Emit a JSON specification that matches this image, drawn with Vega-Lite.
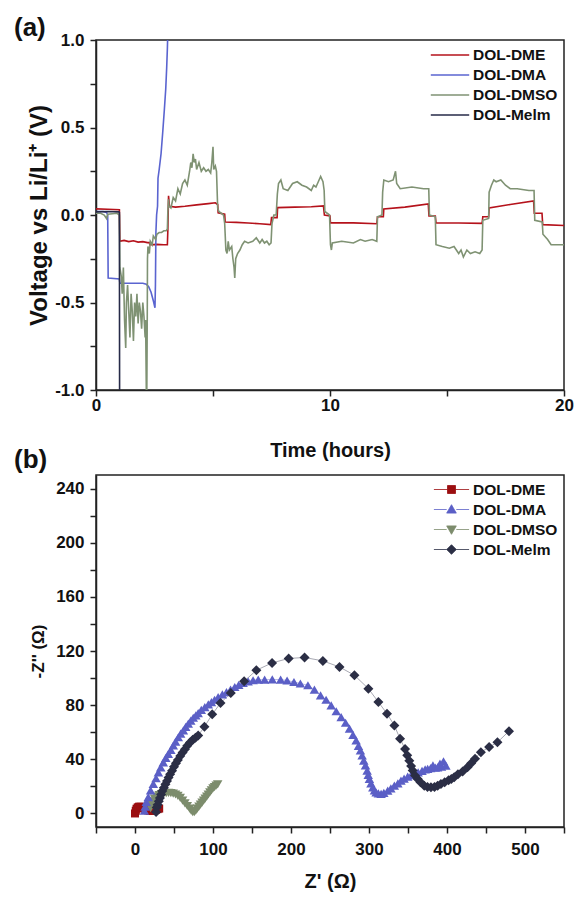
{
  "$schema": "https://vega.github.io/schema/vega-lite/v6.json",
  "background": "white",
  "padding": {"left": 13, "top": 14, "right": 5, "bottom": 2},
  "bounds": "flush",
  "spacing": 85,
  "resolve": {"scale": {"color": "independent"}, "legend": {"color": "independent"}},
  "config": {
    "font": "Liberation Sans",
    "view": {"stroke": "#222", "strokeWidth": 1.5},
    "axis": {"domainColor": "#222", "domainWidth": 1.5, "tickColor": "#222", "tickWidth": 1.5, "tickSize": 6, "grid": false,
      "labelFont": "Liberation Sans", "labelFontWeight": "bold", "labelFontSize": 17, "labelColor": "#111",
      "titleFont": "Liberation Sans", "titleFontWeight": "bold", "titleFontSize": 20, "titleColor": "#111", "labelFlush": false, "labelOverlap": false},
    "legend": {"labelFont": "Liberation Sans", "labelFontWeight": "bold", "labelFontSize": 15.5, "labelColor": "#111"}
  },
  "datasets": {
    "volt": [
      {"s":"DOL-DME","i":0,"t":0,"v":0.035},{"s":"DOL-DME","i":1,"t":0.5,"v":0.033},{"s":"DOL-DME","i":2,"t":1.0,"v":0.03},{"s":"DOL-DME","i":3,"t":1.02,"v":-0.15},
      {"s":"DOL-DME","i":4,"t":1.2,"v":-0.145},{"s":"DOL-DME","i":5,"t":1.4,"v":-0.152},{"s":"DOL-DME","i":6,"t":1.6,"v":-0.147},{"s":"DOL-DME","i":7,"t":1.8,"v":-0.155},
      {"s":"DOL-DME","i":8,"t":2.0,"v":-0.152},{"s":"DOL-DME","i":9,"t":2.2,"v":-0.158},{"s":"DOL-DME","i":10,"t":2.28,"v":-0.158},{"s":"DOL-DME","i":11,"t":2.3,"v":-0.17},
      {"s":"DOL-DME","i":12,"t":2.6,"v":-0.168},{"s":"DOL-DME","i":13,"t":2.9,"v":-0.17},{"s":"DOL-DME","i":14,"t":3.05,"v":-0.17},{"s":"DOL-DME","i":15,"t":3.07,"v":-0.09},
      {"s":"DOL-DME","i":16,"t":3.1,"v":0.11},{"s":"DOL-DME","i":17,"t":3.14,"v":0.05},{"s":"DOL-DME","i":18,"t":3.4,"v":0.045},{"s":"DOL-DME","i":19,"t":3.8,"v":0.05},
      {"s":"DOL-DME","i":20,"t":4.3,"v":0.058},{"s":"DOL-DME","i":21,"t":4.8,"v":0.065},{"s":"DOL-DME","i":22,"t":5.1,"v":0.07},{"s":"DOL-DME","i":23,"t":5.2,"v":0.06},
      {"s":"DOL-DME","i":24,"t":5.22,"v":0.012},{"s":"DOL-DME","i":25,"t":5.5,"v":0.005},{"s":"DOL-DME","i":26,"t":5.52,"v":-0.04},{"s":"DOL-DME","i":27,"t":6.0,"v":-0.042},
      {"s":"DOL-DME","i":28,"t":6.5,"v":-0.046},{"s":"DOL-DME","i":29,"t":7.0,"v":-0.05},{"s":"DOL-DME","i":30,"t":7.47,"v":-0.055},{"s":"DOL-DME","i":31,"t":7.5,"v":-0.015},
      {"s":"DOL-DME","i":32,"t":7.74,"v":-0.015},{"s":"DOL-DME","i":33,"t":7.76,"v":0.042},{"s":"DOL-DME","i":34,"t":8.5,"v":0.045},{"s":"DOL-DME","i":35,"t":9.2,"v":0.047},
      {"s":"DOL-DME","i":36,"t":9.72,"v":0.052},{"s":"DOL-DME","i":37,"t":9.76,"v":0.0},{"s":"DOL-DME","i":38,"t":10.0,"v":-0.005},{"s":"DOL-DME","i":39,"t":10.02,"v":-0.045},
      {"s":"DOL-DME","i":40,"t":11.0,"v":-0.045},{"s":"DOL-DME","i":41,"t":12.0,"v":-0.05},{"s":"DOL-DME","i":42,"t":12.03,"v":-0.01},{"s":"DOL-DME","i":43,"t":12.28,"v":-0.01},
      {"s":"DOL-DME","i":44,"t":12.3,"v":0.035},{"s":"DOL-DME","i":45,"t":13.2,"v":0.045},{"s":"DOL-DME","i":46,"t":14.2,"v":0.063},{"s":"DOL-DME","i":47,"t":14.23,"v":-0.005},
      {"s":"DOL-DME","i":48,"t":14.5,"v":-0.006},{"s":"DOL-DME","i":49,"t":14.53,"v":-0.045},{"s":"DOL-DME","i":50,"t":15.5,"v":-0.046},{"s":"DOL-DME","i":51,"t":16.5,"v":-0.048},
      {"s":"DOL-DME","i":52,"t":16.53,"v":-0.01},{"s":"DOL-DME","i":53,"t":16.78,"v":-0.01},{"s":"DOL-DME","i":54,"t":16.8,"v":0.04},{"s":"DOL-DME","i":55,"t":17.7,"v":0.06},
      {"s":"DOL-DME","i":56,"t":18.7,"v":0.08},{"s":"DOL-DME","i":57,"t":18.73,"v":0.01},{"s":"DOL-DME","i":58,"t":19.06,"v":0.01},{"s":"DOL-DME","i":59,"t":19.09,"v":-0.055},
      {"s":"DOL-DME","i":60,"t":20,"v":-0.06},

      {"s":"DOL-DMA","i":0,"t":0,"v":0.02},{"s":"DOL-DMA","i":1,"t":0.3,"v":0.02},{"s":"DOL-DMA","i":2,"t":0.45,"v":0.015},{"s":"DOL-DMA","i":3,"t":0.5,"v":0.0},
      {"s":"DOL-DMA","i":4,"t":0.52,"v":-0.36},{"s":"DOL-DMA","i":5,"t":1.0,"v":-0.365},{"s":"DOL-DMA","i":6,"t":1.02,"v":-0.39},{"s":"DOL-DMA","i":7,"t":1.5,"v":-0.39},
      {"s":"DOL-DMA","i":8,"t":2.0,"v":-0.39},{"s":"DOL-DMA","i":9,"t":2.15,"v":-0.395},{"s":"DOL-DMA","i":10,"t":2.25,"v":-0.41},{"s":"DOL-DMA","i":11,"t":2.35,"v":-0.44},
      {"s":"DOL-DMA","i":12,"t":2.45,"v":-0.49},{"s":"DOL-DMA","i":13,"t":2.52,"v":-0.53},{"s":"DOL-DMA","i":14,"t":2.54,"v":-0.4},{"s":"DOL-DMA","i":15,"t":2.56,"v":-0.1},
      {"s":"DOL-DMA","i":16,"t":2.59,"v":0.0},{"s":"DOL-DMA","i":17,"t":2.63,"v":0.05},{"s":"DOL-DMA","i":18,"t":2.65,"v":0.21},{"s":"DOL-DMA","i":19,"t":2.7,"v":0.26},
      {"s":"DOL-DMA","i":20,"t":2.78,"v":0.35},{"s":"DOL-DMA","i":21,"t":2.85,"v":0.47},{"s":"DOL-DMA","i":22,"t":2.92,"v":0.6},{"s":"DOL-DMA","i":23,"t":2.98,"v":0.72},
      {"s":"DOL-DMA","i":24,"t":3.02,"v":0.84},{"s":"DOL-DMA","i":25,"t":3.05,"v":0.95},{"s":"DOL-DMA","i":26,"t":3.07,"v":1.05},

      {"s":"DOL-DMSO","i":0,"t":0,"v":0.01},{"s":"DOL-DMSO","i":1,"t":0.2,"v":0.01},{"s":"DOL-DMSO","i":2,"t":0.35,"v":0.0},{"s":"DOL-DMSO","i":3,"t":0.45,"v":-0.02},
      {"s":"DOL-DMSO","i":4,"t":0.5,"v":0.005},{"s":"DOL-DMSO","i":5,"t":0.9,"v":0.01},{"s":"DOL-DMSO","i":6,"t":1.0,"v":0.0},{"s":"DOL-DMSO","i":7,"t":1.02,"v":-0.3},
      {"s":"DOL-DMSO","i":8,"t":1.08,"v":-0.35},{"s":"DOL-DMSO","i":9,"t":1.12,"v":-0.45},{"s":"DOL-DMSO","i":10,"t":1.17,"v":-0.3},{"s":"DOL-DMSO","i":11,"t":1.22,"v":-0.6},
      {"s":"DOL-DMSO","i":12,"t":1.27,"v":-0.76},{"s":"DOL-DMSO","i":13,"t":1.3,"v":-0.5},{"s":"DOL-DMSO","i":14,"t":1.35,"v":-0.4},{"s":"DOL-DMSO","i":15,"t":1.4,"v":-0.55},
      {"s":"DOL-DMSO","i":16,"t":1.45,"v":-0.7},{"s":"DOL-DMSO","i":17,"t":1.5,"v":-0.45},{"s":"DOL-DMSO","i":18,"t":1.55,"v":-0.55},{"s":"DOL-DMSO","i":19,"t":1.6,"v":-0.72},
      {"s":"DOL-DMSO","i":20,"t":1.65,"v":-0.5},{"s":"DOL-DMSO","i":21,"t":1.7,"v":-0.58},{"s":"DOL-DMSO","i":22,"t":1.75,"v":-0.45},{"s":"DOL-DMSO","i":23,"t":1.8,"v":-0.62},
      {"s":"DOL-DMSO","i":24,"t":1.85,"v":-0.5},{"s":"DOL-DMSO","i":25,"t":1.9,"v":-0.55},{"s":"DOL-DMSO","i":26,"t":1.95,"v":-0.65},{"s":"DOL-DMSO","i":27,"t":2.0,"v":-0.5},
      {"s":"DOL-DMSO","i":28,"t":2.05,"v":-0.58},{"s":"DOL-DMSO","i":29,"t":2.1,"v":-0.7},{"s":"DOL-DMSO","i":30,"t":2.12,"v":-0.6},{"s":"DOL-DMSO","i":31,"t":2.15,"v":-1.0},
      {"s":"DOL-DMSO","i":32,"t":2.17,"v":-1.05},{"s":"DOL-DMSO","i":33,"t":2.19,"v":-0.6},{"s":"DOL-DMSO","i":34,"t":2.2,"v":-0.25},{"s":"DOL-DMSO","i":35,"t":2.22,"v":-0.18},
      {"s":"DOL-DMSO","i":36,"t":2.28,"v":-0.22},{"s":"DOL-DMSO","i":37,"t":2.32,"v":-0.15},{"s":"DOL-DMSO","i":38,"t":2.4,"v":-0.17},{"s":"DOL-DMSO","i":39,"t":2.45,"v":-0.12},
      {"s":"DOL-DMSO","i":40,"t":2.55,"v":-0.14},{"s":"DOL-DMSO","i":41,"t":2.6,"v":-0.11},{"s":"DOL-DMSO","i":42,"t":2.7,"v":-0.1},{"s":"DOL-DMSO","i":43,"t":2.8,"v":-0.1},
      {"s":"DOL-DMSO","i":44,"t":2.9,"v":-0.09},{"s":"DOL-DMSO","i":45,"t":3.0,"v":-0.09},{"s":"DOL-DMSO","i":46,"t":3.05,"v":-0.08},{"s":"DOL-DMSO","i":47,"t":3.07,"v":0.02},
      {"s":"DOL-DMSO","i":48,"t":3.1,"v":0.09},{"s":"DOL-DMSO","i":49,"t":3.12,"v":0.05},{"s":"DOL-DMSO","i":50,"t":3.2,"v":0.04},{"s":"DOL-DMSO","i":51,"t":3.3,"v":0.1},
      {"s":"DOL-DMSO","i":52,"t":3.4,"v":0.08},{"s":"DOL-DMSO","i":53,"t":3.5,"v":0.15},{"s":"DOL-DMSO","i":54,"t":3.6,"v":0.12},{"s":"DOL-DMSO","i":55,"t":3.7,"v":0.18},
      {"s":"DOL-DMSO","i":56,"t":3.8,"v":0.2},{"s":"DOL-DMSO","i":57,"t":3.9,"v":0.17},{"s":"DOL-DMSO","i":58,"t":4.0,"v":0.25},{"s":"DOL-DMSO","i":59,"t":4.05,"v":0.3},
      {"s":"DOL-DMSO","i":60,"t":4.1,"v":0.27},{"s":"DOL-DMSO","i":61,"t":4.15,"v":0.35},{"s":"DOL-DMSO","i":62,"t":4.2,"v":0.3},{"s":"DOL-DMSO","i":63,"t":4.25,"v":0.32},
      {"s":"DOL-DMSO","i":64,"t":4.3,"v":0.26},{"s":"DOL-DMSO","i":65,"t":4.4,"v":0.3},{"s":"DOL-DMSO","i":66,"t":4.5,"v":0.25},{"s":"DOL-DMSO","i":67,"t":4.6,"v":0.27},
      {"s":"DOL-DMSO","i":68,"t":4.7,"v":0.25},{"s":"DOL-DMSO","i":69,"t":4.8,"v":0.26},{"s":"DOL-DMSO","i":70,"t":4.9,"v":0.24},{"s":"DOL-DMSO","i":71,"t":4.95,"v":0.3},
      {"s":"DOL-DMSO","i":72,"t":5.0,"v":0.39},{"s":"DOL-DMSO","i":73,"t":5.03,"v":0.26},{"s":"DOL-DMSO","i":74,"t":5.1,"v":0.28},{"s":"DOL-DMSO","i":75,"t":5.15,"v":0.25},
      {"s":"DOL-DMSO","i":76,"t":5.2,"v":0.04},{"s":"DOL-DMSO","i":77,"t":5.25,"v":0.02},{"s":"DOL-DMSO","i":78,"t":5.45,"v":0.0},{"s":"DOL-DMSO","i":79,"t":5.5,"v":-0.05},
      {"s":"DOL-DMSO","i":80,"t":5.55,"v":-0.2},{"s":"DOL-DMSO","i":81,"t":5.6,"v":-0.22},{"s":"DOL-DMSO","i":82,"t":5.65,"v":-0.15},{"s":"DOL-DMSO","i":83,"t":5.7,"v":-0.2},
      {"s":"DOL-DMSO","i":84,"t":5.8,"v":-0.18},{"s":"DOL-DMSO","i":85,"t":5.85,"v":-0.25},{"s":"DOL-DMSO","i":86,"t":5.9,"v":-0.3},{"s":"DOL-DMSO","i":87,"t":5.93,"v":-0.36},
      {"s":"DOL-DMSO","i":88,"t":5.97,"v":-0.25},{"s":"DOL-DMSO","i":89,"t":6.05,"v":-0.22},{"s":"DOL-DMSO","i":90,"t":6.15,"v":-0.2},{"s":"DOL-DMSO","i":91,"t":6.25,"v":-0.17},
      {"s":"DOL-DMSO","i":92,"t":6.35,"v":-0.15},{"s":"DOL-DMSO","i":93,"t":6.5,"v":-0.16},{"s":"DOL-DMSO","i":94,"t":6.7,"v":-0.15},{"s":"DOL-DMSO","i":95,"t":6.85,"v":-0.13},
      {"s":"DOL-DMSO","i":96,"t":7.0,"v":-0.16},{"s":"DOL-DMSO","i":97,"t":7.1,"v":-0.14},{"s":"DOL-DMSO","i":98,"t":7.2,"v":-0.16},{"s":"DOL-DMSO","i":99,"t":7.3,"v":-0.15},
      {"s":"DOL-DMSO","i":100,"t":7.4,"v":-0.17},{"s":"DOL-DMSO","i":101,"t":7.48,"v":-0.16},{"s":"DOL-DMSO","i":102,"t":7.52,"v":-0.05},{"s":"DOL-DMSO","i":103,"t":7.6,"v":0.0},
      {"s":"DOL-DMSO","i":104,"t":7.7,"v":0.0},{"s":"DOL-DMSO","i":105,"t":7.75,"v":0.12},{"s":"DOL-DMSO","i":106,"t":7.8,"v":0.18},{"s":"DOL-DMSO","i":107,"t":7.9,"v":0.2},
      {"s":"DOL-DMSO","i":108,"t":8.0,"v":0.15},{"s":"DOL-DMSO","i":109,"t":8.2,"v":0.14},{"s":"DOL-DMSO","i":110,"t":8.4,"v":0.18},{"s":"DOL-DMSO","i":111,"t":8.6,"v":0.19},
      {"s":"DOL-DMSO","i":112,"t":8.8,"v":0.17},{"s":"DOL-DMSO","i":113,"t":9.0,"v":0.16},{"s":"DOL-DMSO","i":114,"t":9.2,"v":0.14},{"s":"DOL-DMSO","i":115,"t":9.3,"v":0.17},
      {"s":"DOL-DMSO","i":116,"t":9.4,"v":0.16},{"s":"DOL-DMSO","i":117,"t":9.5,"v":0.19},{"s":"DOL-DMSO","i":118,"t":9.6,"v":0.22},{"s":"DOL-DMSO","i":119,"t":9.7,"v":0.19},
      {"s":"DOL-DMSO","i":120,"t":9.75,"v":0.14},{"s":"DOL-DMSO","i":121,"t":9.78,"v":0.02},{"s":"DOL-DMSO","i":122,"t":9.98,"v":0.0},{"s":"DOL-DMSO","i":123,"t":10.02,"v":-0.17},
      {"s":"DOL-DMSO","i":124,"t":10.06,"v":-0.2},{"s":"DOL-DMSO","i":125,"t":10.1,"v":-0.16},{"s":"DOL-DMSO","i":126,"t":10.5,"v":-0.15},{"s":"DOL-DMSO","i":127,"t":11.0,"v":-0.16},
      {"s":"DOL-DMSO","i":128,"t":11.3,"v":-0.14},{"s":"DOL-DMSO","i":129,"t":11.5,"v":-0.15},{"s":"DOL-DMSO","i":130,"t":11.8,"v":-0.14},{"s":"DOL-DMSO","i":131,"t":12.0,"v":-0.15},
      {"s":"DOL-DMSO","i":132,"t":12.03,"v":-0.01},{"s":"DOL-DMSO","i":133,"t":12.22,"v":0.0},{"s":"DOL-DMSO","i":134,"t":12.25,"v":0.13},{"s":"DOL-DMSO","i":135,"t":12.3,"v":0.2},
      {"s":"DOL-DMSO","i":136,"t":12.5,"v":0.19},{"s":"DOL-DMSO","i":137,"t":12.7,"v":0.2},{"s":"DOL-DMSO","i":138,"t":12.8,"v":0.25},{"s":"DOL-DMSO","i":139,"t":12.85,"v":0.18},
      {"s":"DOL-DMSO","i":140,"t":13.0,"v":0.15},{"s":"DOL-DMSO","i":141,"t":13.5,"v":0.16},{"s":"DOL-DMSO","i":142,"t":14.0,"v":0.15},{"s":"DOL-DMSO","i":143,"t":14.22,"v":0.15},
      {"s":"DOL-DMSO","i":144,"t":14.25,"v":0.0},{"s":"DOL-DMSO","i":145,"t":14.5,"v":-0.01},{"s":"DOL-DMSO","i":146,"t":14.53,"v":-0.17},{"s":"DOL-DMSO","i":147,"t":14.8,"v":-0.18},
      {"s":"DOL-DMSO","i":148,"t":15.1,"v":-0.19},{"s":"DOL-DMSO","i":149,"t":15.3,"v":-0.18},{"s":"DOL-DMSO","i":150,"t":15.5,"v":-0.22},{"s":"DOL-DMSO","i":151,"t":15.6,"v":-0.2},
      {"s":"DOL-DMSO","i":152,"t":15.7,"v":-0.24},{"s":"DOL-DMSO","i":153,"t":15.85,"v":-0.2},{"s":"DOL-DMSO","i":154,"t":16.0,"v":-0.22},{"s":"DOL-DMSO","i":155,"t":16.2,"v":-0.21},
      {"s":"DOL-DMSO","i":156,"t":16.4,"v":-0.22},{"s":"DOL-DMSO","i":157,"t":16.5,"v":-0.2},{"s":"DOL-DMSO","i":158,"t":16.53,"v":-0.03},{"s":"DOL-DMSO","i":159,"t":16.78,"v":-0.02},
      {"s":"DOL-DMSO","i":160,"t":16.8,"v":0.13},{"s":"DOL-DMSO","i":161,"t":16.9,"v":0.17},{"s":"DOL-DMSO","i":162,"t":17.0,"v":0.2},{"s":"DOL-DMSO","i":163,"t":17.1,"v":0.19},
      {"s":"DOL-DMSO","i":164,"t":17.3,"v":0.2},{"s":"DOL-DMSO","i":165,"t":17.5,"v":0.17},{"s":"DOL-DMSO","i":166,"t":17.7,"v":0.15},{"s":"DOL-DMSO","i":167,"t":18.0,"v":0.15},
      {"s":"DOL-DMSO","i":168,"t":18.5,"v":0.14},{"s":"DOL-DMSO","i":169,"t":18.72,"v":0.14},{"s":"DOL-DMSO","i":170,"t":18.75,"v":-0.03},{"s":"DOL-DMSO","i":171,"t":19.07,"v":-0.04},
      {"s":"DOL-DMSO","i":172,"t":19.1,"v":-0.11},{"s":"DOL-DMSO","i":173,"t":19.3,"v":-0.14},{"s":"DOL-DMSO","i":174,"t":19.45,"v":-0.17},{"s":"DOL-DMSO","i":175,"t":20,"v":-0.17},

      {"s":"DOL-Melm","i":0,"t":0,"v":0.018},{"s":"DOL-Melm","i":1,"t":0.5,"v":0.02},{"s":"DOL-Melm","i":2,"t":0.98,"v":0.018},{"s":"DOL-Melm","i":3,"t":1.0,"v":0.015},
      {"s":"DOL-Melm","i":4,"t":1.01,"v":-1.2}
    ],
    "eis": [
      {"s":"DOL-DME","i":0,"x":0,"y":0},{"s":"DOL-DME","i":1,"x":1,"y":2},{"s":"DOL-DME","i":2,"x":2,"y":3.5},{"s":"DOL-DME","i":3,"x":3.5,"y":4.5},
      {"s":"DOL-DME","i":4,"x":5,"y":5},{"s":"DOL-DME","i":5,"x":7,"y":5},{"s":"DOL-DME","i":6,"x":9,"y":4.5},{"s":"DOL-DME","i":7,"x":11,"y":4},
      {"s":"DOL-DME","i":8,"x":13,"y":3.2},{"s":"DOL-DME","i":9,"x":15,"y":2.6},{"s":"DOL-DME","i":10,"x":17,"y":2.2},{"s":"DOL-DME","i":11,"x":19,"y":2},
      {"s":"DOL-DME","i":12,"x":21,"y":2},{"s":"DOL-DME","i":13,"x":23,"y":2.1},{"s":"DOL-DME","i":14,"x":25,"y":2.4},{"s":"DOL-DME","i":15,"x":27,"y":2.8},
      {"s":"DOL-DME","i":16,"x":29,"y":3.2},{"s":"DOL-DME","i":17,"x":31,"y":3.6},

      {"s":"DOL-DMSO","i":0,"x":20,"y":4},{"s":"DOL-DMSO","i":1,"x":21,"y":7},{"s":"DOL-DMSO","i":2,"x":23,"y":9},{"s":"DOL-DMSO","i":3,"x":25,"y":11},
      {"s":"DOL-DMSO","i":4,"x":28,"y":12.5},{"s":"DOL-DMSO","i":5,"x":31,"y":13.5},{"s":"DOL-DMSO","i":6,"x":34,"y":14.3},{"s":"DOL-DMSO","i":7,"x":37,"y":14.8},
      {"s":"DOL-DMSO","i":8,"x":40,"y":15},{"s":"DOL-DMSO","i":9,"x":43,"y":15.2},{"s":"DOL-DMSO","i":10,"x":46,"y":15},{"s":"DOL-DMSO","i":11,"x":49,"y":14.6},
      {"s":"DOL-DMSO","i":12,"x":52,"y":14},{"s":"DOL-DMSO","i":13,"x":55,"y":13},{"s":"DOL-DMSO","i":14,"x":58,"y":11.5},{"s":"DOL-DMSO","i":15,"x":61,"y":9.5},
      {"s":"DOL-DMSO","i":16,"x":64,"y":7.5},{"s":"DOL-DMSO","i":17,"x":67,"y":5.5},{"s":"DOL-DMSO","i":18,"x":70,"y":3.5},{"s":"DOL-DMSO","i":19,"x":72,"y":2},
      {"s":"DOL-DMSO","i":20,"x":74,"y":1},{"s":"DOL-DMSO","i":21,"x":76,"y":1},{"s":"DOL-DMSO","i":22,"x":78,"y":2},{"s":"DOL-DMSO","i":23,"x":80,"y":3.5},
      {"s":"DOL-DMSO","i":24,"x":82,"y":5},{"s":"DOL-DMSO","i":25,"x":84,"y":6.5},{"s":"DOL-DMSO","i":26,"x":86,"y":8},{"s":"DOL-DMSO","i":27,"x":88,"y":9.5},
      {"s":"DOL-DMSO","i":28,"x":90,"y":11},{"s":"DOL-DMSO","i":29,"x":92,"y":12.5},{"s":"DOL-DMSO","i":30,"x":94,"y":14},{"s":"DOL-DMSO","i":31,"x":96,"y":15.5},
      {"s":"DOL-DMSO","i":32,"x":98,"y":17},{"s":"DOL-DMSO","i":33,"x":100,"y":18.5},{"s":"DOL-DMSO","i":34,"x":102,"y":19.5},{"s":"DOL-DMSO","i":35,"x":104,"y":20.5},
      {"s":"DOL-DMSO","i":36,"x":106,"y":21.5},

      {"s":"DOL-DMA","i":0,"x":12,"y":2},{"s":"DOL-DMA","i":1,"x":13,"y":5},{"s":"DOL-DMA","i":2,"x":14.5,"y":8.5},{"s":"DOL-DMA","i":3,"x":17,"y":12},
      {"s":"DOL-DMA","i":4,"x":20,"y":17},{"s":"DOL-DMA","i":5,"x":23.5,"y":21.8},{"s":"DOL-DMA","i":6,"x":27,"y":26},{"s":"DOL-DMA","i":7,"x":30,"y":30.4},
      {"s":"DOL-DMA","i":8,"x":33,"y":34},{"s":"DOL-DMA","i":9,"x":36.3,"y":37.8},{"s":"DOL-DMA","i":10,"x":39.5,"y":41},{"s":"DOL-DMA","i":11,"x":42.7,"y":44},
      {"s":"DOL-DMA","i":12,"x":46,"y":47},{"s":"DOL-DMA","i":13,"x":49.1,"y":50.2},{"s":"DOL-DMA","i":14,"x":52,"y":53},{"s":"DOL-DMA","i":15,"x":55.5,"y":56.3},
      {"s":"DOL-DMA","i":16,"x":58.5,"y":59},{"s":"DOL-DMA","i":17,"x":62,"y":61.3},{"s":"DOL-DMA","i":18,"x":65,"y":64},{"s":"DOL-DMA","i":19,"x":68.3,"y":66.3},
      {"s":"DOL-DMA","i":20,"x":71.5,"y":68.5},{"s":"DOL-DMA","i":21,"x":74.7,"y":70.7},{"s":"DOL-DMA","i":22,"x":78,"y":72.5},{"s":"DOL-DMA","i":23,"x":81,"y":74.1},
      {"s":"DOL-DMA","i":24,"x":85,"y":76.5},{"s":"DOL-DMA","i":25,"x":89.5,"y":78.6},{"s":"DOL-DMA","i":26,"x":94,"y":80.5},{"s":"DOL-DMA","i":27,"x":98,"y":82.3},
      {"s":"DOL-DMA","i":28,"x":102,"y":84},{"s":"DOL-DMA","i":29,"x":106.6,"y":86},{"s":"DOL-DMA","i":30,"x":112,"y":88},{"s":"DOL-DMA","i":31,"x":117.3,"y":89.7},
      {"s":"DOL-DMA","i":32,"x":122.5,"y":91.5},{"s":"DOL-DMA","i":33,"x":127.9,"y":93.4},{"s":"DOL-DMA","i":34,"x":133,"y":95},{"s":"DOL-DMA","i":35,"x":138.6,"y":96.4},
      {"s":"DOL-DMA","i":36,"x":145,"y":97.5},{"s":"DOL-DMA","i":37,"x":151.4,"y":98.4},{"s":"DOL-DMA","i":38,"x":158,"y":98.8},{"s":"DOL-DMA","i":39,"x":166.2,"y":98.9},
      {"s":"DOL-DMA","i":40,"x":176,"y":99},{"s":"DOL-DMA","i":41,"x":186.7,"y":98.9},{"s":"DOL-DMA","i":42,"x":195,"y":98.2},{"s":"DOL-DMA","i":43,"x":203.8,"y":97.1},
      {"s":"DOL-DMA","i":44,"x":212,"y":96},{"s":"DOL-DMA","i":45,"x":221.7,"y":94.7},{"s":"DOL-DMA","i":46,"x":230,"y":91.5},{"s":"DOL-DMA","i":47,"x":237.9,"y":87.3},
      {"s":"DOL-DMA","i":48,"x":245,"y":84},{"s":"DOL-DMA","i":49,"x":251.5,"y":79.8},{"s":"DOL-DMA","i":50,"x":258,"y":75.5},{"s":"DOL-DMA","i":51,"x":264.3,"y":71.2},
      {"s":"DOL-DMA","i":52,"x":270,"y":67},{"s":"DOL-DMA","i":53,"x":275,"y":62.6},{"s":"DOL-DMA","i":54,"x":279.5,"y":58},{"s":"DOL-DMA","i":55,"x":283.5,"y":53.9},
      {"s":"DOL-DMA","i":56,"x":286.5,"y":50},{"s":"DOL-DMA","i":57,"x":289,"y":46.5},{"s":"DOL-DMA","i":58,"x":291.2,"y":42.8},{"s":"DOL-DMA","i":59,"x":293.3,"y":39.1},
      {"s":"DOL-DMA","i":60,"x":295.5,"y":35.5},{"s":"DOL-DMA","i":61,"x":297.6,"y":31.7},{"s":"DOL-DMA","i":62,"x":299,"y":28.5},{"s":"DOL-DMA","i":63,"x":300.5,"y":25.5},
      {"s":"DOL-DMA","i":64,"x":302.5,"y":22.3},{"s":"DOL-DMA","i":65,"x":304.9,"y":19.3},{"s":"DOL-DMA","i":66,"x":307,"y":17},{"s":"DOL-DMA","i":67,"x":309.1,"y":15.6},
      {"s":"DOL-DMA","i":68,"x":312,"y":14.8},{"s":"DOL-DMA","i":69,"x":315.5,"y":14.4},{"s":"DOL-DMA","i":70,"x":319,"y":15.2},{"s":"DOL-DMA","i":71,"x":324,"y":16.8},
      {"s":"DOL-DMA","i":72,"x":328,"y":18.5},{"s":"DOL-DMA","i":73,"x":332.5,"y":20.5},{"s":"DOL-DMA","i":74,"x":337,"y":22.3},{"s":"DOL-DMA","i":75,"x":341,"y":24.2},
      {"s":"DOL-DMA","i":76,"x":345,"y":25.8},{"s":"DOL-DMA","i":77,"x":349.6,"y":27.2},{"s":"DOL-DMA","i":78,"x":354,"y":28.3},{"s":"DOL-DMA","i":79,"x":358,"y":29.2},
      {"s":"DOL-DMA","i":80,"x":363,"y":30.3},{"s":"DOL-DMA","i":81,"x":368,"y":31.5},{"s":"DOL-DMA","i":82,"x":372,"y":32.5},{"s":"DOL-DMA","i":83,"x":375.2,"y":32.9},
      {"s":"DOL-DMA","i":84,"x":379,"y":33.5},{"s":"DOL-DMA","i":85,"x":382,"y":35.5},{"s":"DOL-DMA","i":86,"x":385,"y":33.8},{"s":"DOL-DMA","i":87,"x":388,"y":34.1},
      {"s":"DOL-DMA","i":88,"x":391,"y":36.8},{"s":"DOL-DMA","i":89,"x":393,"y":34.5},{"s":"DOL-DMA","i":90,"x":395.5,"y":38.5},{"s":"DOL-DMA","i":91,"x":398.6,"y":35.4},

      {"s":"DOL-Melm","i":0,"x":27,"y":1},{"s":"DOL-Melm","i":1,"x":27.8,"y":4.4},{"s":"DOL-Melm","i":2,"x":29,"y":6.5},{"s":"DOL-Melm","i":3,"x":30.5,"y":9},
      {"s":"DOL-Melm","i":4,"x":32,"y":11.5},{"s":"DOL-Melm","i":5,"x":33.5,"y":14},{"s":"DOL-Melm","i":6,"x":35,"y":16.5},{"s":"DOL-Melm","i":7,"x":37,"y":19},
      {"s":"DOL-Melm","i":8,"x":39,"y":21.5},{"s":"DOL-Melm","i":9,"x":41,"y":24},{"s":"DOL-Melm","i":10,"x":43,"y":26.5},{"s":"DOL-Melm","i":11,"x":45,"y":29},
      {"s":"DOL-Melm","i":12,"x":47.5,"y":31.5},{"s":"DOL-Melm","i":13,"x":50,"y":34.5},{"s":"DOL-Melm","i":14,"x":52.5,"y":37},{"s":"DOL-Melm","i":15,"x":55,"y":39.5},
      {"s":"DOL-Melm","i":16,"x":58,"y":42.5},{"s":"DOL-Melm","i":17,"x":61,"y":45},{"s":"DOL-Melm","i":18,"x":64,"y":47.5},{"s":"DOL-Melm","i":19,"x":67,"y":50},
      {"s":"DOL-Melm","i":20,"x":70.5,"y":52.5},{"s":"DOL-Melm","i":21,"x":74,"y":54.5},{"s":"DOL-Melm","i":22,"x":77.5,"y":56},{"s":"DOL-Melm","i":23,"x":81,"y":57.6},
      {"s":"DOL-Melm","i":24,"x":89,"y":64},{"s":"DOL-Melm","i":25,"x":99,"y":73.2},{"s":"DOL-Melm","i":26,"x":109.6,"y":81.5},{"s":"DOL-Melm","i":27,"x":122.8,"y":89},
      {"s":"DOL-Melm","i":28,"x":139.9,"y":97.6},{"s":"DOL-Melm","i":29,"x":155.6,"y":105.8},{"s":"DOL-Melm","i":30,"x":175.7,"y":111.2},{"s":"DOL-Melm","i":31,"x":197,"y":114.5},
      {"s":"DOL-Melm","i":32,"x":217.4,"y":115.2},{"s":"DOL-Melm","i":33,"x":240.9,"y":112.7},{"s":"DOL-Melm","i":34,"x":262.2,"y":108.2},{"s":"DOL-Melm","i":35,"x":281.3,"y":102.1},
      {"s":"DOL-Melm","i":36,"x":299.2,"y":92.2},{"s":"DOL-Melm","i":37,"x":312,"y":82.3},{"s":"DOL-Melm","i":38,"x":323.1,"y":73.7},{"s":"DOL-Melm","i":39,"x":332.5,"y":65},
      {"s":"DOL-Melm","i":40,"x":339.8,"y":55.2},{"s":"DOL-Melm","i":41,"x":346.2,"y":47.7},{"s":"DOL-Melm","i":42,"x":349,"y":43},{"s":"DOL-Melm","i":43,"x":351.7,"y":39},
      {"s":"DOL-Melm","i":44,"x":354,"y":35},{"s":"DOL-Melm","i":45,"x":356,"y":31.7},{"s":"DOL-Melm","i":46,"x":359,"y":28},{"s":"DOL-Melm","i":47,"x":362.4,"y":25.5},
      {"s":"DOL-Melm","i":48,"x":366,"y":23},{"s":"DOL-Melm","i":49,"x":370.8,"y":20.5},{"s":"DOL-Melm","i":50,"x":375,"y":19.5},{"s":"DOL-Melm","i":51,"x":379.4,"y":19.3},
      {"s":"DOL-Melm","i":52,"x":384,"y":19.5},{"s":"DOL-Melm","i":53,"x":388,"y":20.5},{"s":"DOL-Melm","i":54,"x":392.2,"y":21.8},{"s":"DOL-Melm","i":55,"x":397,"y":23},
      {"s":"DOL-Melm","i":56,"x":402,"y":24.5},{"s":"DOL-Melm","i":57,"x":405.5,"y":25.5},{"s":"DOL-Melm","i":58,"x":409.2,"y":26.7},{"s":"DOL-Melm","i":59,"x":414,"y":29},
      {"s":"DOL-Melm","i":60,"x":420,"y":31},{"s":"DOL-Melm","i":61,"x":426.3,"y":34.1},{"s":"DOL-Melm","i":62,"x":431,"y":37},{"s":"DOL-Melm","i":63,"x":436,"y":40.5},
      {"s":"DOL-Melm","i":64,"x":443.4,"y":45.2},{"s":"DOL-Melm","i":65,"x":454,"y":49},{"s":"DOL-Melm","i":66,"x":464.7,"y":52.6},{"s":"DOL-Melm","i":67,"x":479.5,"y":60.8}
    ]
  },
  "vconcat": [
    {
      "width": 468,
      "height": 350,
      "title": {"text": "(a)", "anchor": "start", "frame": "group", "dx": -82, "dy": 10, "offset": 0, "fontSize": 26, "font": "Liberation Sans", "fontWeight": "bold", "color": "#111"},
      "data": {"name": "volt"},
      "mark": {"type": "line", "strokeWidth": 1.6, "clip": true},
      "encoding": {
        "x": {"field": "t", "type": "quantitative", "scale": {"domain": [0, 20], "nice": false, "zero": false},
          "axis": {"title": "Time (hours)", "values": [0, 5, 10, 15, 20], "labelExpr": "datum.value % 10 == 0 ? datum.label : ''", "labelPadding": 1, "titlePadding": 27}},
        "y": {"field": "v", "type": "quantitative", "scale": {"domain": [-1, 1], "nice": false, "zero": false},
          "axis": {"title": "Voltage vs Li/Li⁺ (V)", "titleFontSize": 24, "values": [-1, -0.75, -0.5, -0.25, 0, 0.25, 0.5, 0.75, 1],
            "labelExpr": "abs(datum.value * 2 - round(datum.value * 2)) < 0.001 ? (datum.value < 0 ? '-' : '') + format(abs(datum.value), '.1f') : ''",
            "labelPadding": 6, "titlePadding": 3}},
        "color": {"field": "s", "type": "nominal",
          "scale": {"domain": ["DOL-DME", "DOL-DMA", "DOL-DMSO", "DOL-Melm"], "range": ["#b5121b", "#5a64d0", "#7f9273", "#262a48"]},
          "legend": {"title": null, "orient": "top-right", "offset": 6, "symbolType": "M-2.4,0H2.4", "symbolSize": 256, "symbolStrokeWidth": 1.6, "labelOffset": 14, "rowPadding": 2}},
        "order": {"field": "i", "type": "quantitative"}
      }
    },
    {
      "width": 468,
      "height": 352,
      "title": {"text": "(b)", "anchor": "start", "frame": "group", "dx": -82, "dy": 0, "offset": 2, "fontSize": 26, "font": "Liberation Sans", "fontWeight": "bold", "color": "#111"},
      "data": {"name": "eis"},
      "encoding": {
        "x": {"field": "x", "type": "quantitative", "scale": {"domain": [-50, 550], "nice": false, "zero": false},
          "axis": {"title": "Z' (Ω)", "values": [-50, 0, 50, 100, 150, 200, 250, 300, 350, 400, 450, 500, 550], "labelExpr": "datum.value % 100 == 0 && datum.value >= 0 && datum.value <= 500 ? datum.label : ''", "labelPadding": 8, "titlePadding": 14}},
        "y": {"field": "y", "type": "quantitative", "scale": {"domain": [-10, 250], "nice": false, "zero": false},
          "axis": {"title": "-Z'' (Ω)", "titleFontSize": 17, "values": [0, 20, 40, 60, 80, 100, 120, 140, 160, 180, 200, 220, 240], "labelExpr": "datum.value % 40 == 0 ? datum.label : ''", "labelPadding": 6, "titlePadding": 8}}
      },
      "layer": [
        {
          "mark": {"type": "line", "strokeWidth": 0.7, "opacity": 0.6, "clip": true},
          "encoding": {
            "stroke": {"field": "s", "type": "nominal", "scale": {"domain": ["DOL-DME", "DOL-DMA", "DOL-DMSO", "DOL-Melm"], "range": ["#9b0e10", "#5b5fc6", "#7c8c6c", "#2b2e45"]}, "legend": null},
            "order": {"field": "i", "type": "quantitative"}
          }
        },
        {
          "transform": [{"filter": "datum.s == 'DOL-DME'"}],
          "mark": {"type": "point", "shape": "square", "filled": true, "opacity": 1, "size": 64, "clip": true},
          "encoding": {
            "color": {"field": "s", "type": "nominal", "scale": {"domain": ["DOL-DME", "DOL-DMA", "DOL-DMSO", "DOL-Melm"], "range": ["#9b0e10", "#5b5fc6", "#7c8c6c", "#2b2e45"]},
              "legend": {"title": null, "orient": "top-right", "offset": 6, "symbolSize": 256, "labelOffset": 13, "rowPadding": 3,
                "encoding": {"symbols": {
                  "shape": {"value": {"expr": "datum.value == 'DOL-DME' ? 'M-2.2,0H-0.5M0.5,0H2.2M-0.5,-0.5H0.5V0.5H-0.5Z' : datum.value == 'DOL-DMA' ? 'M-2.2,0H-0.6M0.6,0H2.2M0,-0.6L0.6,0.45H-0.6Z' : datum.value == 'DOL-DMSO' ? 'M-2.2,0H-0.6M0.6,0H2.2M0,0.6L0.6,-0.45H-0.6Z' : 'M-2.2,0H-0.6M0.6,0H2.2M0,-0.6L0.6,0L0,0.6L-0.6,0Z'"}},
                  "stroke": {"value": {"expr": "datum.value == 'DOL-DME' ? '#9b0e10' : datum.value == 'DOL-DMA' ? '#5b5fc6' : datum.value == 'DOL-DMSO' ? '#7c8c6c' : '#2b2e45'"}},
                  "strokeWidth": {"value": 0.8}
                }}}}
          }
        },
        {
          "transform": [{"filter": "datum.s == 'DOL-DMSO'"}],
          "mark": {"type": "point", "shape": "triangle-down", "filled": true, "opacity": 1, "size": 90, "clip": true},
          "encoding": {
            "color": {"field": "s", "type": "nominal", "scale": {"domain": ["DOL-DME", "DOL-DMA", "DOL-DMSO", "DOL-Melm"], "range": ["#9b0e10", "#5b5fc6", "#7c8c6c", "#2b2e45"]}}
          }
        },
        {
          "transform": [{"filter": "datum.s == 'DOL-DMA'"}],
          "mark": {"type": "point", "shape": "triangle-up", "filled": true, "opacity": 1, "size": 90, "clip": true},
          "encoding": {
            "color": {"field": "s", "type": "nominal", "scale": {"domain": ["DOL-DME", "DOL-DMA", "DOL-DMSO", "DOL-Melm"], "range": ["#9b0e10", "#5b5fc6", "#7c8c6c", "#2b2e45"]}}
          }
        },
        {
          "transform": [{"filter": "datum.s == 'DOL-Melm'"}],
          "mark": {"type": "point", "shape": "diamond", "filled": true, "opacity": 1, "size": 100, "clip": true},
          "encoding": {
            "color": {"field": "s", "type": "nominal", "scale": {"domain": ["DOL-DME", "DOL-DMA", "DOL-DMSO", "DOL-Melm"], "range": ["#9b0e10", "#5b5fc6", "#7c8c6c", "#2b2e45"]}}
          }
        }
      ]
    }
  ]
}
